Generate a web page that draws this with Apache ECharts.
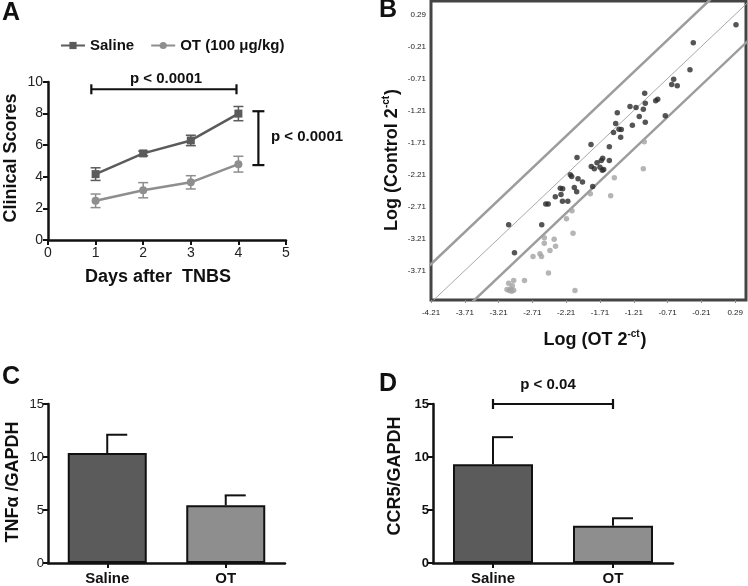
<!DOCTYPE html>
<html><head><meta charset="utf-8">
<script src="https://cdn.jsdelivr.net/npm/echarts@6/dist/echarts.min.js"></script>
<style>html,body{margin:0;padding:0;background:#fff}#c{width:748px;height:586px}</style>
</head><body><div id="c"></div>
<script>
// ---------- Panel A data ----------
const A_DAYS = [1, 2, 3, 4];
const A_SALINE_MEAN = [4.17, 5.48, 6.3, 8.0];
const A_SALINE_SEM = [0.4, 0.15, 0.33, 0.45];
const A_OT_MEAN = [2.48, 3.15, 3.65, 4.8];
const A_OT_SEM = [0.43, 0.48, 0.42, 0.5];
// ---------- Panel B data ----------
const B_TICKS_X = [-4.21, -3.71, -3.21, -2.71, -2.21, -1.71, -1.21, -0.71, -0.21, 0.29];
const B_TICKS_Y = [-3.71, -3.21, -2.71, -2.21, -1.71, -1.21, -0.71, -0.21, 0.29];
const B_DARK_X = [0.302, -0.330, -0.379, -0.620, -0.649, -0.567, -1.049, -0.856, -0.886, -1.266, -1.177, -1.040, -1.069, -1.454, -0.744, -1.129, -1.040, -1.478, -1.231, -1.429, -1.395, -1.510, -1.404, -1.843, -1.572, -2.050, -1.670, -1.691, -1.754, -1.572, -1.839, -1.794, -1.710, -1.676, -1.655, -2.149, -2.129, -2.035, -1.969, -2.297, -2.262, -2.090, -2.055, -1.818, -2.287, -2.371, -2.265, -2.186, -2.476, -2.512, -3.061, -2.572, -2.975];
const B_DARK_Y = [0.129, -0.152, -0.574, -0.721, -0.804, -0.824, -0.940, -1.033, -1.058, -1.148, -1.163, -1.096, -1.190, -1.246, -1.293, -1.304, -1.393, -1.413, -1.441, -1.502, -1.507, -1.554, -1.627, -1.741, -1.777, -1.944, -1.955, -1.991, -2.027, -1.991, -2.085, -2.121, -2.096, -2.143, -2.132, -2.215, -2.241, -2.277, -2.327, -2.424, -2.433, -2.413, -2.480, -2.398, -2.523, -2.558, -2.629, -2.629, -2.671, -2.671, -2.996, -2.996, -3.433];
const B_GRAY_X = [-1.055, -1.069, -1.498, -1.853, -1.552, -2.124, -2.206, -2.109, -2.534, -2.388, -2.534, -2.368, -2.450, -2.598, -2.575, -2.701, -2.472, -2.827, -2.987, -3.061, -3.007, -3.086, -3.052, -3.016, -2.987, -3.037, -2.080];
const B_GRAY_Y = [-1.699, -2.119, -2.262, -2.512, -2.541, -2.777, -2.902, -3.127, -3.199, -3.221, -3.283, -3.332, -3.398, -3.449, -3.491, -3.491, -3.749, -3.866, -3.866, -3.908, -3.949, -4.007, -4.022, -4.033, -4.018, -3.999, -4.022];
const B_OPEN_X = [-1.351];
const B_OPEN_Y = [-0.366];
const B_FOLD_OFFSET = Math.log10(4); // +/- 4-fold boundary lines
// ---------- Panels C / D data ----------
const BAR_CATS = ['Saline', 'OT'];
const C_MEAN = [10.37, 5.44];
const C_ERR = [1.73, 0.94];
const D_MEAN = [9.31, 3.52];
const D_ERR = [2.56, 0.7];

const FONT = '"Liberation Sans", Arial, Helvetica, sans-serif';
const C_SAL = '#5b5b5b', C_OT = '#8e8e8e';

const B_XMIN = -4.21, B_XMAX = 0.45, B_YMIN = -4.17, B_YMAX = 0.5;

function errBars(xi, yi, xs, means, errs, color, capLeft, capRight, lw) {
  return {
    type: 'custom', xAxisIndex: xi, yAxisIndex: yi, silent: true, z: 1,
    data: xs.map((x, i) => [x, means[i], means[i] + errs[i], means[i] - errs[i]]),
    renderItem: function (params, api) {
      const x = api.value(0), hi = api.value(2), lo = api.value(3);
      const top = api.coord([x, hi]);
      const bot = api.coord([x, lo]);
      const st = { stroke: color, lineWidth: lw };
      return { type: 'group', children: [
        { type: 'line', shape: { x1: top[0], y1: top[1], x2: bot[0], y2: bot[1] }, style: st },
        { type: 'line', shape: { x1: top[0] - capLeft, y1: top[1], x2: top[0] + capRight, y2: top[1] }, style: st },
        { type: 'line', shape: { x1: bot[0] - capLeft, y1: bot[1], x2: bot[0] + capRight, y2: bot[1] }, style: st }
      ]};
    }
  };
}
function barErr(xi, yi, means, errs) {
  return {
    type: 'custom', xAxisIndex: xi, yAxisIndex: yi, silent: true, z: 1,
    data: means.map((m, i) => [i, m, m + errs[i]]),
    renderItem: function (params, api) {
      const a = api.coord([api.value(0), api.value(1)]);
      const b = api.coord([api.value(0), api.value(2)]);
      const st = { stroke: '#111', lineWidth: 2 };
      return { type: 'group', children: [
        { type: 'line', shape: { x1: a[0], y1: a[1], x2: b[0], y2: b[1] }, style: st },
        { type: 'line', shape: { x1: b[0] - 1, y1: b[1], x2: b[0] + 20, y2: b[1] }, style: st }
      ]};
    }
  };
}
function hBracket(xi, yi, x1, x2, y) {
  return {
    type: 'custom', xAxisIndex: xi, yAxisIndex: yi, silent: true, z: 5,
    data: [[x1, x2, y]],
    renderItem: function (params, api) {
      const a = api.coord([api.value(0), api.value(2)]);
      const b = api.coord([api.value(1), api.value(2)]);
      const st = { stroke: '#111', lineWidth: 2.2 };
      return { type: 'group', children: [
        { type: 'line', shape: { x1: a[0], y1: a[1], x2: b[0], y2: b[1] }, style: st },
        { type: 'line', shape: { x1: a[0], y1: a[1] - 5, x2: a[0], y2: a[1] + 5 }, style: st },
        { type: 'line', shape: { x1: b[0], y1: b[1] - 5, x2: b[0], y2: b[1] + 5 }, style: st }
      ]};
    }
  };
}
function vBracket(xi, yi, x, y1, y2) {
  return {
    type: 'custom', xAxisIndex: xi, yAxisIndex: yi, silent: true, z: 5,
    data: [[x, y1, y2]],
    renderItem: function (params, api) {
      const a = api.coord([api.value(0), api.value(1)]);
      const b = api.coord([api.value(0), api.value(2)]);
      const st = { stroke: '#111', lineWidth: 2.2 };
      return { type: 'group', children: [
        { type: 'line', shape: { x1: a[0], y1: a[1], x2: b[0], y2: b[1] }, style: st },
        { type: 'line', shape: { x1: a[0] - 6, y1: a[1], x2: a[0] + 6, y2: a[1] }, style: st },
        { type: 'line', shape: { x1: b[0] - 6, y1: b[1], x2: b[0] + 6, y2: b[1] }, style: st }
      ]};
    }
  };
}
function diagLine(offset, width, color) {
  return {
    type: 'line', xAxisIndex: 1, yAxisIndex: 1, silent: true, symbol: 'none', clip: true, z: 1,
    data: [[B_XMIN - 1, B_XMIN - 1 + offset], [B_XMAX + 1, B_XMAX + 1 + offset]],
    lineStyle: { width: width, color: color }
  };
}

const axisBase = {
  axisLine: { show: true, onZero: false, lineStyle: { color: '#111', width: 2.5 } },
  axisTick: { show: true, length: 5, lineStyle: { color: '#111', width: 2 } },
  splitLine: { show: false }
};

const chart = echarts.init(document.getElementById('c'), null, { renderer: 'canvas' });
chart.setOption({
  animation: false,
  backgroundColor: '#fff',
  textStyle: { fontFamily: FONT },
  legend: {
    data: ['Saline', 'OT (100 μg/kg)'], left: 55, top: 33, itemWidth: 24, itemHeight: 9, itemGap: 16,
    textStyle: { fontFamily: FONT, fontWeight: 'bold', fontSize: 15, color: '#111' }
  },
  grid: [
    { left: 48, top: 82, width: 238, height: 158 },
    { left: 431, top: 1, width: 315, height: 299, show: true, borderColor: '#444', borderWidth: 3, backgroundColor: 'transparent' },
    { left: 48, top: 404, width: 237, height: 159 },
    { left: 433, top: 404, width: 240, height: 160 }
  ],
  xAxis: [
    Object.assign({}, axisBase, { gridIndex: 0, type: 'value', min: 0, max: 5, interval: 1,
      axisLabel: { fontSize: 14, color: '#222', margin: 6 } }),
    { gridIndex: 1, type: 'value', min: B_XMIN, max: B_XMAX, splitLine: { show: false },
      axisLine: { show: false, onZero: false },
      axisTick: { show: true, customValues: B_TICKS_X, length: 3, lineStyle: { color: '#888' } },
      axisLabel: { customValues: B_TICKS_X, fontSize: 8, color: '#222', margin: 9, formatter: v => v.toFixed(2) } },
    Object.assign({}, axisBase, { gridIndex: 2, type: 'category', data: BAR_CATS,
      axisTick: { show: true, alignWithLabel: true, length: 5, lineStyle: { color: '#111', width: 2 } },
      axisLabel: { fontSize: 15, fontWeight: 'bold', color: '#111', margin: 8 } }),
    Object.assign({}, axisBase, { gridIndex: 3, type: 'category', data: BAR_CATS,
      axisTick: { show: true, alignWithLabel: true, length: 5, lineStyle: { color: '#111', width: 2 } },
      axisLabel: { fontSize: 15, fontWeight: 'bold', color: '#111', margin: 8 } })
  ],
  yAxis: [
    Object.assign({}, axisBase, { gridIndex: 0, type: 'value', min: 0, max: 10, interval: 2,
      axisLabel: { fontSize: 14, color: '#222', margin: 5 } }),
    { gridIndex: 1, type: 'value', min: B_YMIN, max: B_YMAX, splitLine: { show: false },
      axisLine: { show: false, onZero: false },
      axisTick: { show: false },
      axisLabel: { customValues: B_TICKS_Y, fontSize: 8, color: '#222', margin: 5, formatter: v => v.toFixed(2) } },
    Object.assign({}, axisBase, { gridIndex: 2, type: 'value', min: 0, max: 15, interval: 5,
      axisLabel: { fontSize: 13, color: '#222', margin: 4 } }),
    Object.assign({}, axisBase, { gridIndex: 3, type: 'value', min: 0, max: 15, interval: 5,
      axisLabel: { fontSize: 13, fontWeight: 'bold', color: '#111', margin: 4 } })
  ],
  series: [
    errBars(0, 0, A_DAYS, A_SALINE_MEAN, A_SALINE_SEM, C_SAL, 5, 5, 1.5),
    errBars(0, 0, A_DAYS, A_OT_MEAN, A_OT_SEM, C_OT, 5, 5, 1.5),
    { name: 'Saline', type: 'line', xAxisIndex: 0, yAxisIndex: 0, z: 3,
      data: A_DAYS.map((d, i) => [d, A_SALINE_MEAN[i]]), symbol: 'rect', symbolSize: 8,
      itemStyle: { color: C_SAL }, lineStyle: { color: C_SAL, width: 2.5 } },
    { name: 'OT (100 μg/kg)', type: 'line', xAxisIndex: 0, yAxisIndex: 0, z: 3,
      data: A_DAYS.map((d, i) => [d, A_OT_MEAN[i]]), symbol: 'circle', symbolSize: 8,
      itemStyle: { color: C_OT }, lineStyle: { color: C_OT, width: 2.5 } },
    hBracket(0, 0, 0.91, 3.96, 9.54),
    vBracket(0, 0, 4.42, 8.15, 4.74),
    // Panel B
    diagLine(B_FOLD_OFFSET, 2.5, '#9c9c9c'),
    diagLine(0, 1, '#a8a8a8'),
    diagLine(-B_FOLD_OFFSET, 2.5, '#9c9c9c'),
    { type: 'scatter', xAxisIndex: 1, yAxisIndex: 1, symbolSize: 5.5, z: 3,
      data: B_GRAY_X.map((x, i) => [x, B_GRAY_Y[i]]), itemStyle: { color: '#a3a3a3' } },
    { type: 'scatter', xAxisIndex: 1, yAxisIndex: 1, symbolSize: 5.5, z: 4,
      data: B_DARK_X.map((x, i) => [x, B_DARK_Y[i]]), itemStyle: { color: '#2a2a2a' } },
    { type: 'scatter', xAxisIndex: 1, yAxisIndex: 1, symbol: 'emptyCircle', symbolSize: 5, z: 4,
      data: B_OPEN_X.map((x, i) => [x, B_OPEN_Y[i]]), itemStyle: { color: '#fff', borderColor: '#666', borderWidth: 1 } },
    // Panel C
    { type: 'bar', xAxisIndex: 2, yAxisIndex: 2, barWidth: 79, z: 2,
      data: C_MEAN.map((v, i) => ({ value: v, itemStyle: { color: i === 0 ? C_SAL : C_OT } })),
      itemStyle: { borderColor: '#111', borderWidth: 2 } },
    barErr(2, 2, C_MEAN, C_ERR),
    // Panel D
    { type: 'bar', xAxisIndex: 3, yAxisIndex: 3, barWidth: 80, z: 2,
      data: D_MEAN.map((v, i) => ({ value: v, itemStyle: { color: i === 0 ? C_SAL : C_OT } })),
      itemStyle: { borderColor: '#111', borderWidth: 2 } },
    barErr(3, 3, D_MEAN, D_ERR),
    hBracket(3, 3, 0, 1, 15)
  ],
  graphic: [
    { type: 'text', x: 2, y: 13, style: { text: 'A', font: 'bold 25px ' + FONT, fill: '#111', verticalAlign: 'middle' } },
    { type: 'text', x: 379, y: 10, style: { text: 'B', font: 'bold 25px ' + FONT, fill: '#111', verticalAlign: 'middle' } },
    { type: 'text', x: 2, y: 377, style: { text: 'C', font: 'bold 25px ' + FONT, fill: '#111', verticalAlign: 'middle' } },
    { type: 'text', x: 379, y: 384, style: { text: 'D', font: 'bold 25px ' + FONT, fill: '#111', verticalAlign: 'middle' } },
    { type: 'text', x: 11, y: 158, rotation: Math.PI / 2, style: { text: 'Clinical Scores', font: 'bold 18px ' + FONT, fill: '#111', align: 'center', verticalAlign: 'middle' } },
    { type: 'text', x: 158, y: 277, style: { text: 'Days after  TNBS', font: 'bold 18px ' + FONT, fill: '#111', align: 'center', verticalAlign: 'middle' } },
    { type: 'text', x: 166, y: 79, style: { text: 'p < 0.0001', font: 'bold 15px ' + FONT, fill: '#111', align: 'center', verticalAlign: 'middle' } },
    { type: 'text', x: 271, y: 137, style: { text: 'p < 0.0001', font: 'bold 15px ' + FONT, fill: '#111', align: 'left', verticalAlign: 'middle' } },
    { type: 'text', x: 548, y: 385, style: { text: 'p < 0.04', font: 'bold 15px ' + FONT, fill: '#111', align: 'center', verticalAlign: 'middle' } },
    { type: 'text', x: 392, y: 160, rotation: Math.PI / 2, style: {
        text: '{a|Log (Control 2}{s|-ct}{a|)}', align: 'center', verticalAlign: 'middle',
        rich: { a: { font: 'bold 18px ' + FONT, fill: '#111', lineHeight: 22 }, s: { font: 'bold 10px ' + FONT, fill: '#111', verticalAlign: 'top', lineHeight: 22, padding: [0, 1, 8, 0] } } } },
    { type: 'text', x: 595, y: 340, style: {
        text: '{a|Log (OT 2}{s|-ct}{a|)}', align: 'center', verticalAlign: 'middle',
        rich: { a: { font: 'bold 18px ' + FONT, fill: '#111', lineHeight: 22 }, s: { font: 'bold 10px ' + FONT, fill: '#111', verticalAlign: 'top', lineHeight: 22, padding: [0, 1, 8, 0] } } } },
    { type: 'text', x: 13, y: 482, rotation: Math.PI / 2, style: { text: 'TNFα /GAPDH', font: 'bold 18px ' + FONT, fill: '#111', align: 'center', verticalAlign: 'middle' } },
    { type: 'text', x: 395, y: 476, rotation: Math.PI / 2, style: { text: 'CCR5/GAPDH', font: 'bold 18px ' + FONT, fill: '#111', align: 'center', verticalAlign: 'middle' } }
  ]
});
</script></body></html>
